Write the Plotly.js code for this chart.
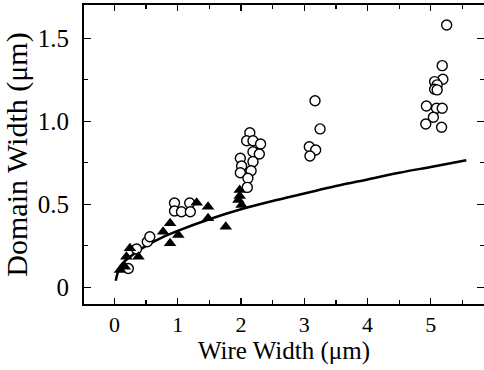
<!DOCTYPE html>
<html>
<head>
<meta charset="utf-8">
<script src="https://cdn.plot.ly/plotly-3.0.1.min.js"></script>
<style>html,body{margin:0;padding:0;background:#fff;}#chart{width:484px;height:370px;}</style>
</head>
<body>
<div id="chart"></div>
<script>
// Open circles
const circleX = [0.22, 0.35, 0.52, 0.56,
  0.95, 1.19, 0.95, 1.06, 1.20,
  2.14, 2.09, 2.19, 2.31, 2.19, 2.29, 1.99, 2.19, 2.01, 2.16, 1.99, 2.11, 2.10,
  3.17, 3.25, 3.08, 3.18, 3.09,
  5.25, 5.18, 5.19, 5.06, 5.10, 5.06, 5.10, 4.93, 5.09, 5.18, 5.04, 4.92, 5.17];
const circleY = [0.114, 0.231, 0.275, 0.305,
  0.508, 0.508, 0.46, 0.455, 0.455,
  0.931, 0.883, 0.883, 0.863, 0.817, 0.803, 0.777, 0.757, 0.731, 0.702, 0.690, 0.657, 0.602,
  1.124, 0.954, 0.847, 0.827, 0.791,
  1.58, 1.335, 1.253, 1.239, 1.219, 1.193, 1.189, 1.092, 1.078, 1.078, 1.024, 0.984, 0.964];

// Filled triangles
const triX = [0.09, 0.165, 0.19, 0.245, 0.38, 0.77, 0.88, 1.01, 0.88, 1.30, 1.48, 1.48, 1.76, 1.98, 1.98, 1.96, 2.01];
const triY = [0.104, 0.124, 0.184, 0.235, 0.184, 0.335, 0.386, 0.315, 0.265, 0.51, 0.486, 0.416, 0.365, 0.586, 0.55, 0.526, 0.496];

// Model curve
const curveX = [0.02, 0.1, 0.25, 0.5, 0.75, 1.0, 1.5, 2.0, 2.5, 3.0, 3.5, 4.0, 4.5, 5.0, 5.56];
const curveY = [0.04, 0.13, 0.185, 0.25, 0.30, 0.34, 0.41, 0.47, 0.52, 0.565, 0.61, 0.65, 0.69, 0.725, 0.765];

// Tick labels
const xTickVals = [0, 1, 2, 3, 4, 5];
const xTickText = ['0', '1', '2', '3', '4', '5'];
const yTickVals = [0, 0.5, 1.0, 1.5];
const yTickText = ['0', '0.5', '1.0', '1.5'];

const font = 'Liberation Serif';

const traces = [
  {x: curveX, y: curveY, mode: 'lines', type: 'scatter',
   line: {color: '#000', width: 2.5, shape: 'spline'}, hoverinfo: 'skip'},
  {x: circleX, y: circleY, mode: 'markers', type: 'scatter',
   marker: {symbol: 'circle', size: 10, color: '#fff', line: {color: '#000', width: 1.4}}},
  {x: triX, y: triY, mode: 'markers', type: 'scatter',
   marker: {symbol: 'triangle-up', size: 11, color: '#000', line: {color: '#000', width: 0}}}
];

const layout = {
  width: 484, height: 370,
  margin: {l: 84, r: 0, t: 5, b: 66},
  paper_bgcolor: '#fff', plot_bgcolor: '#fff',
  showlegend: false,
  font: {family: font, color: '#000'},
  xaxis: {
    range: [-0.48, 5.84], showgrid: false, zeroline: false,
    showline: true, linecolor: '#000', linewidth: 2, mirror: 'allticks',
    ticks: 'inside', ticklen: 6, tickwidth: 1.3, tickcolor: '#000',
    tickvals: xTickVals, ticktext: xTickText,
    tickfont: {family: font, size: 22, color: '#000'},
    ticklabelstandoff: 0,
    minor: {ticks: 'inside', dtick: 0.5, tick0: 0, ticklen: 4, tickwidth: 1.2, tickcolor: '#000', showgrid: false},
    title: {text: 'Wire Width (μm)', font: {family: font, size: 25, color: '#000'}, standoff: 4}
  },
  yaxis: {
    range: [-0.10, 1.70], showgrid: false, zeroline: false,
    showline: true, linecolor: '#000', linewidth: 2, mirror: 'allticks',
    ticks: 'inside', ticklen: 7, tickwidth: 1.3, tickcolor: '#000',
    tickvals: yTickVals, ticktext: yTickText,
    tickfont: {family: font, size: 25, color: '#000'},
    ticklabelstandoff: 8,
    minor: {ticks: 'inside', dtick: 0.25, tick0: 0, ticklen: 4, tickwidth: 1.2, tickcolor: '#000', showgrid: false},
    title: {text: 'Domain Width (μm)', font: {family: font, size: 30, color: '#000'}, standoff: 4}
  }
};

Plotly.newPlot('chart', traces, layout, {staticPlot: true, displayModeBar: false});
</script>
</body>
</html>
